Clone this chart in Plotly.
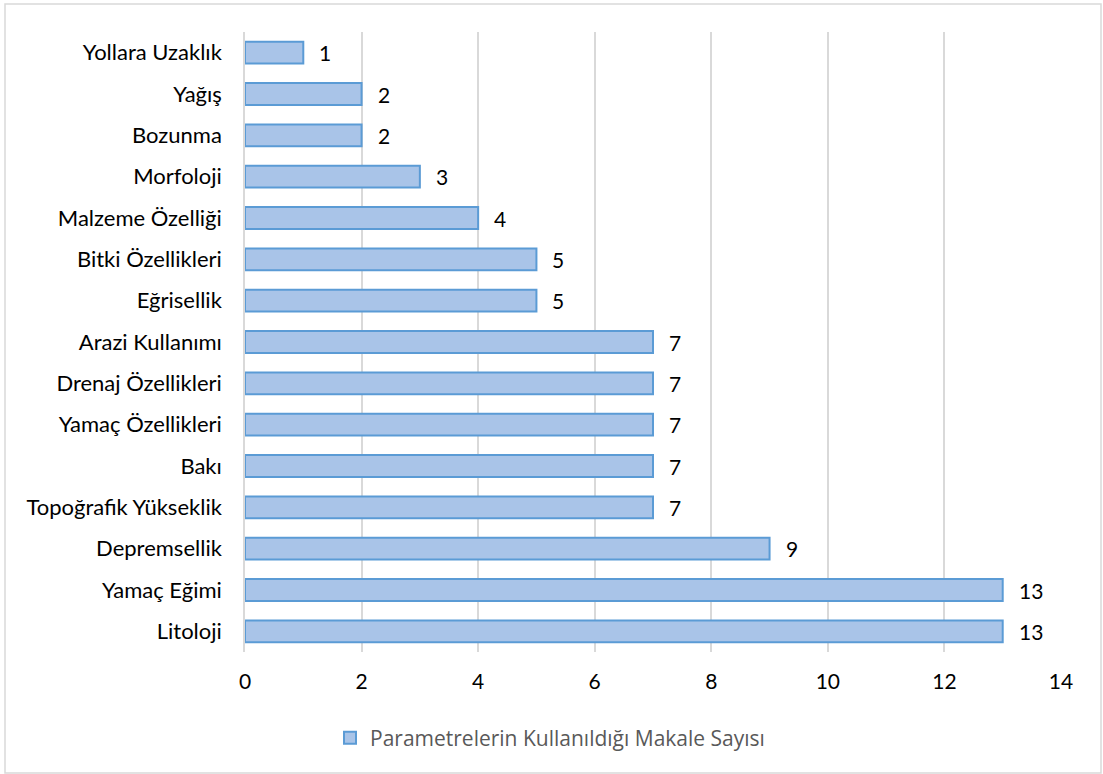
import plotly.graph_objects as go

W, H = 1103, 774

# Parameters and number of articles using each one (bottom to top)
categories = [
    "Litoloji", "Yamaç Eğimi", "Depremsellik", "Topoğrafik Yükseklik", "Bakı",
    "Yamaç Özellikleri", "Drenaj Özellikleri", "Arazi Kullanımı", "Eğrisellik",
    "Bitki Özellikleri", "Malzeme Özelliği", "Morfoloji", "Bozunma", "Yağış",
    "Yollara Uzaklık",
]
counts = [13, 13, 9, 7, 7, 7, 7, 7, 5, 5, 4, 3, 2, 2, 1]
series_name = "Parametrelerin Kullanıldığı Makale Sayısı"
x_ticks = [0, 2, 4, 6, 8, 10, 12, 14]

FONT = "Lato, Carlito, Calibri, sans-serif"
FSIZE = 22

fig = go.Figure(
    go.Bar(
        y=categories,
        x=counts,
        orientation="h",
        name=series_name,
        width=0.53,
        marker=dict(color="#a9c4e8", line=dict(color="#5b9bd5", width=2)),
        showlegend=True,
    )
)

# value labels to the right of each bar
for cat, val in zip(categories, counts):
    fig.add_annotation(
        x=val, y=cat, xref="x", yref="y",
        text=str(val), showarrow=False,
        xanchor="left", yanchor="middle", xshift=14,
        font=dict(family=FONT, size=21, color="#000000"),
    )

fig.update_layout(
    width=W,
    height=H,
    margin=dict(l=0, r=0, t=0, b=0),
    paper_bgcolor="white",
    plot_bgcolor="white",
    font=dict(family=FONT, size=FSIZE, color="#000000"),
    xaxis=dict(
        domain=[245 / W, 1061 / W],
        range=[0, 14],
        tickvals=x_ticks,
        showgrid=True,
        gridcolor="#d9d9d9",
        gridwidth=1.5,
        zeroline=False,
        showline=False,
        ticks="",
        ticklabelstandoff=15,
        tickfont=dict(size=21),
        automargin=False,
    ),
    yaxis=dict(
        domain=[1 - 652 / H, 1 - 32 / H],
        categoryorder="array",
        categoryarray=categories,
        showgrid=False,
        zeroline=False,
        showline=True,
        linecolor="#d9d9d9",
        linewidth=1.5,
        ticks="",
        ticklabelstandoff=17,
        tickfont=dict(size=FSIZE),
        automargin=False,
    ),
    legend=dict(
        orientation="h",
        x=330 / W,
        xanchor="left",
        y=1 - 738 / H,
        yanchor="middle",
        font=dict(size=21, color="#595959", family="'Open Sans', sans-serif"),
        itemwidth=30,
    ),
    bargap=0.47,
    shapes=[
        dict(
            type="rect",
            xref="paper",
            yref="paper",
            x0=5 / W,
            x1=1101 / W,
            y0=1 - 773 / H,
            y1=1 - 4 / H,
            line=dict(color="#d9d9d9", width=1.5),
            fillcolor="rgba(0,0,0,0)",
            layer="below",
        )
    ],
)

fig.write_html("out.html")
